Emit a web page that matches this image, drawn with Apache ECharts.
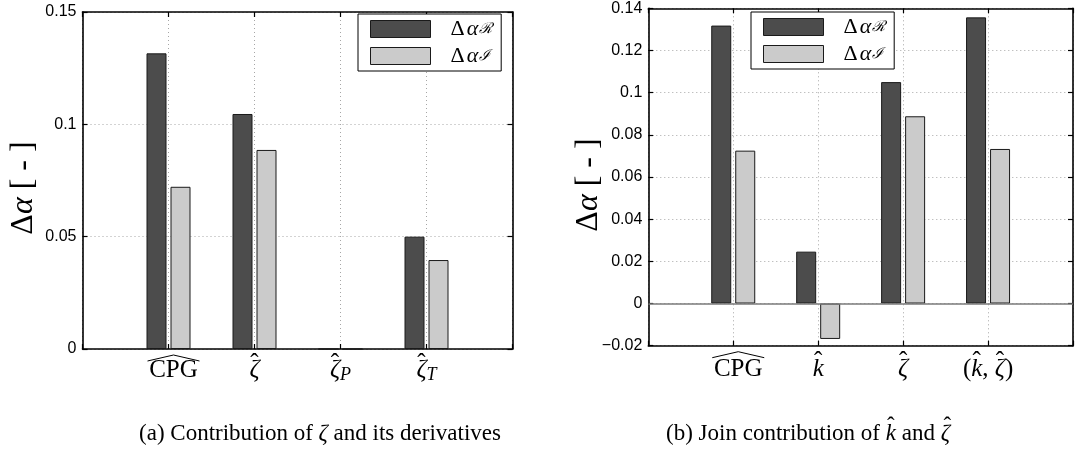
<!DOCTYPE html>
<html>
<head>
<meta charset="utf-8">
<script src="https://cdn.jsdelivr.net/npm/echarts@6/dist/echarts.min.js"></script>
<style>
  html, body { margin: 0; padding: 0; background: #fff; }
  #chart { width: 1076px; height: 453px; }
</style>
</head>
<body>
<div id="chart"></div>
<script>
// ---- data ----
const categoriesA = ['CPG', 'zeta', 'zetaP', 'zetaT'];
const categoriesB = ['CPG', 'k', 'zeta', 'kzeta'];
const seriesNames = ['dR', 'dI'];
const realA = [0.1316, 0.1046, 0, 0.0500];
const imagA = [0.0722, 0.0886, 0, 0.0396];
const realB = [0.1318, 0.0246, 0.1050, 0.1357];
const imagB = [0.0725, -0.0168, 0.0888, 0.0733];
const yTicksA = [0, 0.05, 0.1, 0.15];
const yTicksB = [-0.02, 0, 0.02, 0.04, 0.06, 0.08, 0.1, 0.12, 0.14];

// ---- styling ----
const SERIF = '"Liberation Serif", "DejaVu Serif", serif';
const SANS = '"Liberation Sans", Arial, sans-serif';
const DARK = '#4c4c4c', LIGHT = '#cbcbcb', EDGE = '#1a1a1a';
const GRID_LINE = { color: '#a6a6a6', type: [1, 3], width: 1 };
const AXIS_LINE = { color: '#000', width: 1.6 };

const measureCtx = document.createElement('canvas').getContext('2d');
function textWidth(str, size, italic) {
  measureCtx.font = (italic ? 'italic ' : '') + size + 'px ' + SERIF;
  return measureCtx.measureText(str).width;
}

// Tick label pieces: text, italic, hat accent, subscript
const labelParts = {
  CPG: [{ t: 'CPG', wide: true }],
  zeta: [{ t: 'ζ', it: true, hat: true }],
  zetaP: [{ t: 'ζ', it: true, hat: true }, { t: 'P', it: true, sub: true }],
  zetaT: [{ t: 'ζ', it: true, hat: true }, { t: 'T', it: true, sub: true }],
  k: [{ t: 'k', it: true, hat: true }],
  kzeta: [{ t: '(' }, { t: 'k', it: true, hat: true }, { t: ', ' }, { t: 'ζ', it: true, hat: true }, { t: ')' }]
};

// Two-line rich text: accents on the first line, symbols on the second.
// ECharts label rich styles take "color"; raw graphic text takes "fill".
let styleId = 0;
function buildRich(parts, rich, o) {
  const ink = (c) => o.fillKey ? { fill: c } : { color: c };
  let top = '', bottom = '';
  parts.forEach(p => {
    const size = p.sub ? o.sub : o.size;
    const id = 's' + (styleId++);
    const shift = p.wide ? o.wideShift : 0;
    rich[id] = Object.assign({
      fontFamily: SERIF, fontSize: size, fontStyle: p.it ? 'italic' : 'normal',
      lineHeight: p.sub ? 1 : o.mainLH, verticalAlign: p.sub ? 'top' : 'middle',
      padding: [p.sub ? o.subDrop : 0, 0, 0, shift]
    }, ink('#000'));
    bottom += '{' + id + '|' + p.t + '}';
    const hid = 'h' + id;
    if (p.hat) {
      rich[hid] = Object.assign({
        fontFamily: SERIF, fontSize: o.size, lineHeight: o.hatLH,
        width: textWidth(p.t, size, p.it), align: 'center', padding: [0, 0, 0, o.hatNudge]
      }, ink('#000'));
      top += '{' + hid + '|ˆ}';
    } else {
      rich[hid] = Object.assign({
        fontFamily: SERIF, fontSize: size, fontStyle: p.it ? 'italic' : 'normal',
        lineHeight: o.hatLH, padding: [0, 0, 0, shift]
      }, ink('rgba(0,0,0,0)'));
      top += '{' + hid + '|' + p.t + '}';
    }
  });
  return top + '\n' + bottom;
}

const tickRich = {};
const tickOpts = { size: 25, sub: 18, mainLH: 11, hatLH: 2, wideShift: 10, hatNudge: 0, subDrop: 1 };
const tickText = {};
Object.keys(labelParts).forEach(k => { tickText[k] = buildRich(labelParts[k], tickRich, tickOpts); });

function fmtTick(v) {
  const s = String(+Math.abs(v).toFixed(4));
  return v < 0 ? '\u2212' + s : s;
}

function xAxis(gi, cats, pos, main, margin) {
  return {
    type: 'category', gridIndex: gi, position: pos, boundaryGap: false,
    data: ['_L'].concat(cats, ['_R']),
    axisLine: { show: true, onZero: false, lineStyle: AXIS_LINE },
    axisTick: { show: true, inside: true, length: 5, interval: 0, lineStyle: { color: '#000', width: 1.2 } },
    axisLabel: main ? {
      interval: 0, margin: margin, rich: tickRich,
      formatter: v => tickText[v] || ''
    } : { show: false },
    splitLine: { show: main, interval: 0, lineStyle: GRID_LINE }
  };
}

function yAxis(gi, ticks, pos, main) {
  return {
    type: 'value', gridIndex: gi, position: pos,
    min: ticks[0], max: ticks[ticks.length - 1], interval: ticks[1] - ticks[0],
    axisLine: { show: true, onZero: false, lineStyle: AXIS_LINE },
    axisTick: { show: true, inside: true, length: 5, lineStyle: { color: '#000', width: 1.2 } },
    axisLabel: main ? {
      margin: 6, color: '#000', fontFamily: SANS, fontSize: 16, formatter: fmtTick
    } : { show: false },
    splitLine: { show: main, lineStyle: GRID_LINE }
  };
}

function bars(name, vals, color, xi, yi, extra) {
  return Object.assign({
    type: 'bar', name: name, xAxisIndex: xi, yAxisIndex: yi,
    data: [null].concat(vals, [null]),
    barWidth: 20, barGap: '20%',
    itemStyle: { color: color, borderColor: EDGE, borderWidth: 1 }
  }, extra || {});
}

const legendRich = {
  d: { fontFamily: SERIF, fontSize: 22, color: '#000', lineHeight: 17, padding: [0, 2, 0, 15] },
  a: { fontFamily: SERIF, fontSize: 22, fontStyle: 'italic', color: '#000', lineHeight: 17, padding: [0, 1, 0, 0] },
  r: { fontFamily: '"DejaVu Serif", serif', fontStyle: 'italic', fontSize: 15, color: '#000',
       lineHeight: 1, verticalAlign: 'top', padding: [1, 0, 0, 0] }
};
function legend(left, top) {
  return {
    left: left, top: top, orient: 'vertical', padding: [4, 9, 4, 12],
    itemWidth: 60, itemHeight: 17, itemGap: 5, icon: 'rect',
    borderColor: '#000', borderWidth: 1, backgroundColor: '#fff',
    selectedMode: false, data: seriesNames,
    itemStyle: { borderColor: EDGE, borderWidth: 1 },
    formatter: n => n === 'dR' ? '{d|Δ}{a|α}{r|ℛ}' : '{d|Δ}{a|α}{r|ℐ}',
    textStyle: { rich: legendRich }
  };
}

const chart = echarts.init(document.getElementById('chart'), null, { renderer: 'canvas' });
chart.setOption({
  animation: false,
  backgroundColor: '#fff',
  grid: [
    { left: 82.5, top: 12, width: 430, height: 337 },
    { left: 648.3, top: 8.3, width: 430, height: 337.4 }
  ],
  xAxis: [
    xAxis(0, categoriesA, 'bottom', true, 14),
    xAxis(0, categoriesA, 'top', false),
    xAxis(1, categoriesB, 'bottom', true, 16),
    xAxis(1, categoriesB, 'top', false)
  ],
  yAxis: [
    yAxis(0, yTicksA, 'left', true),
    yAxis(0, yTicksA, 'right', false),
    yAxis(1, yTicksB, 'left', true),
    yAxis(1, yTicksB, 'right', false)
  ],
  legend: [legend(358, 14), legend(751, 12)],
  series: [
    bars('dR', realA, DARK, 0, 0),
    bars('dI', imagA, LIGHT, 0, 0),
    bars('dR', realB, DARK, 2, 2, {
      markLine: {
        silent: true, symbol: 'none', label: { show: false },
        lineStyle: { color: '#7a7a7a', width: 1.5, type: 'solid' },
        data: [{ yAxis: 0 }]
      }
    }),
    bars('dI', imagB, LIGHT, 2, 2)
  ]
});

// ---- axis names, wide accents and captions ----
const nameRich = {
  d: { fontFamily: SERIF, fontSize: 32, fill: '#000' },
  a: { fontFamily: SERIF, fontSize: 32, fontStyle: 'italic', fill: '#000' },
  n: { fontFamily: SERIF, fontSize: 32, fill: '#000' }
};
function yName(x, y) {
  return {
    type: 'text', x: x, y: y, rotation: Math.PI / 2,
    style: { text: '{d|Δ}{a|α}{n| [ - ]}', rich: nameRich, align: 'center', verticalAlign: 'middle' }
  };
}

function wideHat(xi, yi, yVal) {
  const x = chart.convertToPixel({ xAxisIndex: xi }, 'CPG') + 5;
  const y = chart.convertToPixel({ yAxisIndex: yi }, yVal);
  return {
    type: 'polyline', silent: true,
    shape: { points: [[x - 26, y + 12], [x, y + 6], [x + 26, y + 12]] },
    style: { stroke: '#000', lineWidth: 1, fill: null }
  };
}

const capRich = {};
const capOpts = { size: 23, sub: 16, mainLH: 12, hatLH: 2, wideShift: 0, hatNudge: 2, subDrop: 1, fillKey: true };
const captionA = [{ t: '(a) Contribution of ' }, { t: 'ζ', it: true }, { t: ' and its derivatives' }];
const captionB = [{ t: '(b) Join contribution of ' }, { t: 'k', it: true, hat: true }, { t: ' and ' }, { t: 'ζ', it: true, hat: true }];
function caption(parts, x) {
  return {
    type: 'text', x: x, y: 433,
    style: { text: buildRich(parts, capRich, capOpts), rich: capRich, align: 'center', verticalAlign: 'middle' }
  };
}

chart.setOption({
  graphic: [
    yName(24, 188),
    yName(589, 185),
    wideHat(0, 0, yTicksA[0]),
    wideHat(2, 2, yTicksB[0]),
    caption(captionA, 320),
    caption(captionB, 808)
  ]
});
</script>
</body>
</html>
